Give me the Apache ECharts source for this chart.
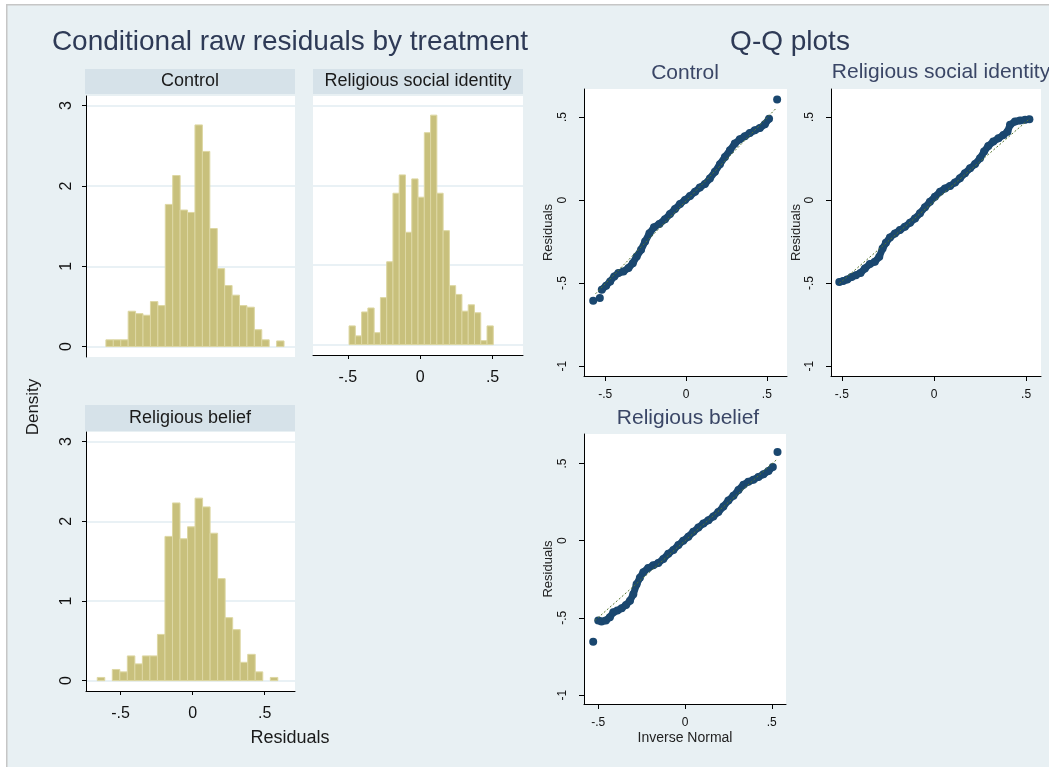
<!DOCTYPE html>
<html><head><meta charset="utf-8">
<script src="https://cdn.jsdelivr.net/npm/echarts@6/dist/echarts.min.js"></script>
<style>html,body{margin:0;padding:0;background:#fff;} #c{width:1049px;height:767px;}</style>
</head><body><div id="c"></div>
<script>
// ---------------- DATA ----------------
// Histograms: first bin start, bin width, bar heights (density)
const histControlStart = -0.602;
const histControlWidth = 0.0515;
const histControlHeights = [0.084, 0.084, 0.084, 0.44, 0.41, 0.39, 0.56, 0.51, 1.77, 2.13, 1.70, 1.67, 2.76, 2.43, 1.47, 0.97, 0.76, 0.64, 0.51, 0.49, 0.21, 0.084, 0, 0.07];

const histRsiStart = -0.491;
const histRsiWidth = 0.0433;
const histRsiHeights = [0.235, 0.11, 0.41, 0.46, 0.15, 0.59, 1.04, 1.90, 2.13, 1.41, 2.08, 1.85, 2.66, 2.88, 1.90, 1.43, 0.74, 0.63, 0.42, 0.50, 0.40, 0.05, 0.235];

const histBeliefStart = -0.662;
const histBeliefWidth = 0.0522;
const histBeliefHeights = [0.04, 0, 0.14, 0.11, 0.31, 0.21, 0.31, 0.31, 0.58, 1.81, 2.23, 1.78, 1.93, 2.29, 2.18, 1.85, 1.28, 0.79, 0.64, 0.23, 0.33, 0.11, 0, 0.04];

const histYTicks = [0, 1, 2, 3];
const histXTicks = [-0.5, 0, 0.5];
const qqXTicks = [-0.5, 0, 0.5];
const qqYTicks = [-1, -0.5, 0, 0.5];

// Q-Q plots: [inverse normal, residual]
const qqControlBand = [[-0.521,-0.54],[-0.494,-0.516],[-0.469,-0.49],[-0.444,-0.46],[-0.418,-0.44],[-0.387,-0.43],[-0.356,-0.41],[-0.329,-0.38],[-0.305,-0.34],[-0.278,-0.30],[-0.253,-0.25],[-0.226,-0.20],[-0.198,-0.164],[-0.165,-0.144],[-0.130,-0.116],[-0.099,-0.084],[-0.068,-0.054],[-0.037,-0.024],[-0.006,0],[0.025,0.024],[0.056,0.05],[0.086,0.076],[0.117,0.096],[0.148,0.13],[0.179,0.17],[0.21,0.216],[0.241,0.26],[0.272,0.30],[0.302,0.34],[0.333,0.366],[0.364,0.384],[0.395,0.404],[0.426,0.42],[0.457,0.434],[0.488,0.456],[0.514,0.49]];
const qqControlOut = [[-0.574,-0.606],[-0.533,-0.59],[0.564,0.606]];
const qqControlRef = [[-0.56,-0.565],[0.56,0.555]];

const qqRsiBand = [[-0.514,-0.493],[-0.493,-0.487],[-0.471,-0.479],[-0.447,-0.463],[-0.424,-0.453],[-0.399,-0.439],[-0.375,-0.412],[-0.348,-0.386],[-0.321,-0.372],[-0.297,-0.342],[-0.279,-0.292],[-0.261,-0.258],[-0.239,-0.225],[-0.212,-0.201],[-0.185,-0.181],[-0.158,-0.161],[-0.130,-0.137],[-0.103,-0.111],[-0.076,-0.080],[-0.049,-0.044],[-0.022,-0.010],[0.005,0.020],[0.033,0.050],[0.060,0.070],[0.087,0.085],[0.114,0.105],[0.141,0.131],[0.168,0.161],[0.196,0.191],[0.223,0.217],[0.25,0.252],[0.272,0.292],[0.295,0.326],[0.322,0.352],[0.350,0.372],[0.377,0.392],[0.399,0.412],[0.413,0.453],[0.440,0.473],[0.467,0.479],[0.495,0.483],[0.518,0.487]];
const qqRsiOut = [];
const qqRsiRef = [[-0.514,-0.503],[0.522,0.493]];

const qqBeliefBand = [[-0.5,-0.517],[-0.481,-0.523],[-0.456,-0.517],[-0.433,-0.496],[-0.413,-0.464],[-0.390,-0.453],[-0.365,-0.438],[-0.340,-0.417],[-0.317,-0.389],[-0.298,-0.347],[-0.279,-0.283],[-0.260,-0.240],[-0.240,-0.204],[-0.212,-0.177],[-0.183,-0.160],[-0.154,-0.145],[-0.125,-0.119],[-0.096,-0.085],[-0.067,-0.060],[-0.038,-0.028],[-0.010,0],[0.019,0.026],[0.048,0.057],[0.077,0.085],[0.106,0.111],[0.135,0.132],[0.163,0.157],[0.192,0.185],[0.221,0.221],[0.25,0.260],[0.279,0.291],[0.308,0.328],[0.337,0.362],[0.365,0.381],[0.394,0.394],[0.423,0.413],[0.452,0.430],[0.481,0.451],[0.506,0.477]];
const qqBeliefOut = [[-0.529,-0.655],[0.533,0.574]];
const qqBeliefRef = [[-0.519,-0.517],[0.529,0.526]];

// ---------------- CHART ----------------
const FONT = '"Liberation Sans", Arial, sans-serif';
const BG = '#e8f0f3';
const STRIP = '#d6e2e9';
const BAR = '#c8c07c';
const BAR_EDGE = '#ddd7a3';
const NAVY = '#1a476f';
const GREEN = '#55752f';
const GRIDLINE = '#e2edf2';
const TITLE_C = '#2e3a56';

function fmt(v) {
  if (Math.abs(v) < 1e-9) return '0';
  let s = String(+(+v).toFixed(2));
  return s.replace(/^(-?)0\./, '$1.');
}

function histData(start, width, heights) {
  return heights.map((h, i) => [start + i * width, start + (i + 1) * width, h]);
}

function histSeries(idx, start, width, heights) {
  return {
    type: 'custom', xAxisIndex: idx, yAxisIndex: idx,
    data: histData(start, width, heights),
    encode: { x: [0, 1], y: 2 },
    renderItem: function (params, api) {
      const h = api.value(2);
      if (!(h > 0)) return null;
      const p0 = api.coord([api.value(0), 0]);
      const p1 = api.coord([api.value(1), h]);
      return {
        type: 'rect',
        shape: { x: p0[0], y: p1[1], width: p1[0] - p0[0], height: p0[1] - p1[1] },
        style: { fill: BAR, stroke: BAR_EDGE, lineWidth: 1 }
      };
    }
  };
}

const grids = [
  { left: 86, top: 96, width: 209, height: 261 },   // hist Control
  { left: 313, top: 96, width: 210, height: 259 },  // hist RSI
  { left: 86, top: 432, width: 209, height: 259 },  // hist Belief
  { left: 584, top: 89, width: 203, height: 287 },  // QQ Control
  { left: 831, top: 89, width: 210, height: 287 },  // QQ RSI
  { left: 584, top: 434, width: 202, height: 270 }  // QQ Belief
].map(g => Object.assign({ show: true, backgroundColor: '#ffffff', borderWidth: 0, containLabel: false }, g));

const axisLineBlack = { show: true, onZero: false, lineStyle: { color: '#000', width: 1 } };

function histX(idx, visible) {
  return {
    type: 'value', gridIndex: idx, min: -0.74, max: 0.71,
    axisLine: visible ? axisLineBlack : { show: false, onZero: false },
    axisTick: { show: visible, customValues: histXTicks, length: 4, lineStyle: { color: '#000' } },
    axisLabel: { show: visible, customValues: histXTicks, formatter: fmt, fontSize: 16, fontFamily: FONT, color: '#111', margin: 15 },
    splitLine: { show: false }
  };
}
function histY(idx, visible) {
  return {
    type: 'value', gridIndex: idx, min: -0.13, max: 3.12,
    axisLine: visible ? axisLineBlack : { show: false, onZero: false },
    axisTick: { show: visible, customValues: histYTicks, length: 4, lineStyle: { color: '#000' } },
    axisLabel: { show: visible, customValues: histYTicks, formatter: fmt, rotate: 90, fontSize: 16, fontFamily: FONT, color: '#111', margin: 11 },
    splitLine: { show: true, lineStyle: { color: GRIDLINE, width: 1.5 } }
  };
}
function qqX(idx, min, max, name) {
  return {
    type: 'value', gridIndex: idx, min: min, max: max,
    axisLine: axisLineBlack,
    axisTick: { show: true, customValues: qqXTicks, length: 5, lineStyle: { color: '#000' } },
    axisLabel: { customValues: qqXTicks, formatter: fmt, fontSize: 12, fontFamily: FONT, color: '#111', margin: 13 },
    splitLine: { show: false },
    name: name || '', nameLocation: 'middle', nameGap: 27,
    nameTextStyle: { fontSize: 14, fontFamily: FONT, color: '#222' }
  };
}
function qqY(idx, min, max, gap) {
  return {
    type: 'value', gridIndex: idx, min: min, max: max,
    axisLine: axisLineBlack,
    axisTick: { show: true, customValues: qqYTicks, length: 5, lineStyle: { color: '#000' } },
    axisLabel: { customValues: qqYTicks, formatter: fmt, rotate: 90, fontSize: 12, fontFamily: FONT, color: '#111', margin: 15 },
    splitLine: { show: false },
    name: 'Residuals', nameLocation: 'middle', nameGap: gap, nameRotate: 90,
    nameTextStyle: { fontSize: 13, fontFamily: FONT, color: '#222' }
  };
}

function qqSeries(idx, band, out, ref) {
  return [
    { type: 'line', xAxisIndex: idx, yAxisIndex: idx, data: band, symbol: 'circle', symbolSize: 8,
      showSymbol: true, itemStyle: { color: NAVY, opacity: 1 }, lineStyle: { color: NAVY, width: 7 }, z: 2 },
    { type: 'scatter', xAxisIndex: idx, yAxisIndex: idx, data: out, symbol: 'circle', symbolSize: 8,
      itemStyle: { color: NAVY, opacity: 1 }, z: 2 },
    { type: 'line', xAxisIndex: idx, yAxisIndex: idx, data: ref, symbol: 'none',
      lineStyle: { color: GREEN, width: 1, type: [2, 2] }, z: 5 }
  ];
}

function txt(text, x, y, size, color, rot) {
  return { type: 'text', x: x, y: y, rotation: rot || 0, z: 10,
    style: { text: text, font: size + 'px ' + FONT, fill: color,
      align: 'center', verticalAlign: 'middle', textAlign: 'center', textVerticalAlign: 'middle' } };
}
function rect(x, y, w, h, fill) {
  return { type: 'rect', shape: { x: x, y: y, width: w, height: h }, style: { fill: fill }, z: 0 };
}

const option = {
  animation: false,
  backgroundColor: BG,
  grid: grids,
  xAxis: [histX(0, false), histX(1, true), histX(2, true),
          qqX(3, -0.631, 0.625), qqX(4, -0.559, 0.581), qqX(5, -0.582, 0.582, 'Inverse Normal')],
  yAxis: [histY(0, true), histY(1, false), histY(2, true),
          qqY(3, -1.06, 0.669, 29), qqY(4, -1.06, 0.669, 24), qqY(5, -1.058, 0.691, 29)],
  series: [
    histSeries(0, histControlStart, histControlWidth, histControlHeights),
    histSeries(1, histRsiStart, histRsiWidth, histRsiHeights),
    histSeries(2, histBeliefStart, histBeliefWidth, histBeliefHeights)
  ].concat(qqSeries(3, qqControlBand, qqControlOut, qqControlRef))
   .concat(qqSeries(4, qqRsiBand, qqRsiOut, qqRsiRef))
   .concat(qqSeries(5, qqBeliefBand, qqBeliefOut, qqBeliefRef)),
  graphic: { elements: [
    rect(0, 0, 1049, 4, '#ffffff'),
    rect(0, 0, 6, 767, '#ffffff'),
    rect(6, 4, 1043, 1.5, '#c6c6c6'),
    rect(6, 4, 1.5, 763, '#c6c6c6'),
    rect(85, 69, 210, 25, STRIP),
    rect(313, 69, 210, 25, STRIP),
    rect(85, 405, 210, 26, STRIP),
    txt('Conditional raw residuals by treatment', 290, 42, 28, TITLE_C),
    txt('Q-Q plots', 790, 42, 28, TITLE_C),
    txt('Control', 190, 81, 18, '#1a1a1a'),
    txt('Religious social identity', 418, 81, 18, '#1a1a1a'),
    txt('Religious belief', 190, 418, 18, '#1a1a1a'),
    txt('Control', 685, 73, 21, '#3a4666'),
    txt('Religious social identity', 941, 72, 21, '#3a4666'),
    txt('Religious belief', 688, 418, 21, '#3a4666'),
    txt('Density', 33, 407, 17, '#1a1a1a', Math.PI / 2),
    txt('Residuals', 290, 738, 18, '#1a1a1a')
  ] }
};

const chart = echarts.init(document.getElementById('c'), null, { renderer: 'canvas' });
chart.setOption(option);
</script>
</body></html>
